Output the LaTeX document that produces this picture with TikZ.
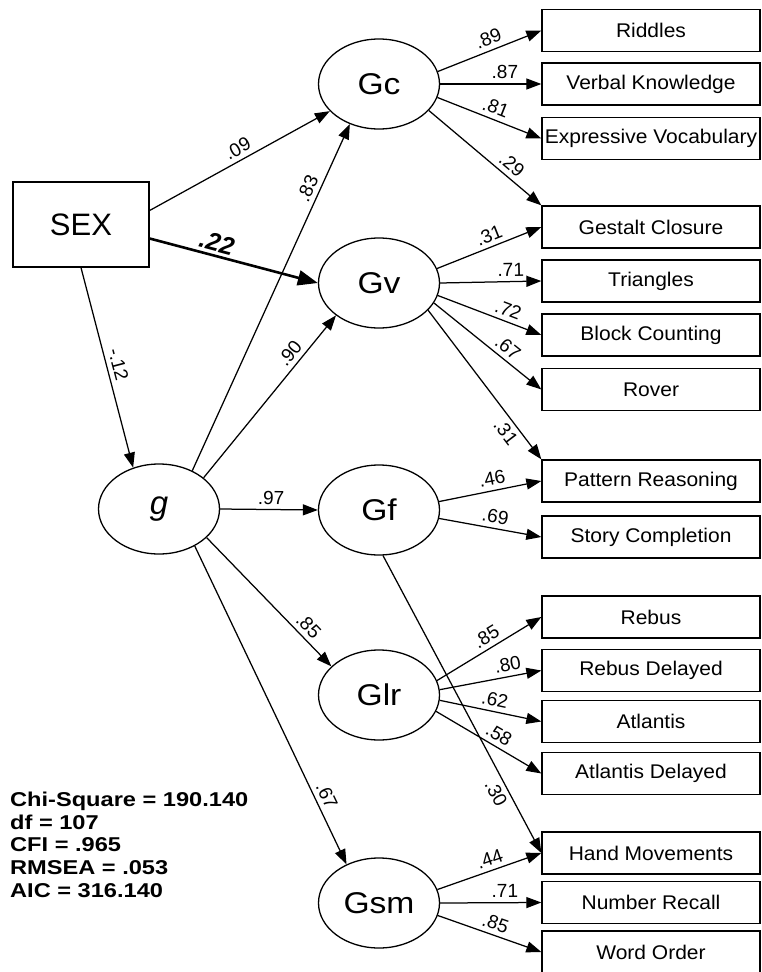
\documentclass[tikz,border=0pt]{standalone}
\usepackage{fontspec}
\setmainfont{Liberation Sans}
\newfontfamily\boxfont[FakeStretch=1.06]{Liberation Sans}
\newfontfamily\latfont[FakeStretch=1.12]{Liberation Sans}
\newfontfamily\statfont[FakeStretch=1.18]{Liberation Sans}
\usetikzlibrary{arrows.meta,shapes.geometric}

\tikzset{
  latent/.style={ellipse, draw, line width=1.3pt, minimum width=121pt,
    minimum height=90pt, inner sep=0pt, font=\latfont\fontsize{30}{30}\selectfont},
  indic/.style={rectangle, draw, line width=1.3pt, minimum width=218pt,
    minimum height=42pt, inner sep=0pt, font=\boxfont\fontsize{19.8}{20}\selectfont},
  arr/.style={line width=1.25pt, -{Triangle[length=15pt,width=11pt]}},
  lab/.style={font=\fontsize{19}{19}\selectfont, inner sep=4.5pt, sloped},
}

\begin{document}
\begin{tikzpicture}[x=1pt,y=-1pt]
\useasboundingbox (0,0) rectangle (761,972);

% observed grouping variable
\node[draw, line width=1.3pt, minimum width=136pt, minimum height=85pt,
  inner sep=0pt, font=\fontsize{31}{31}\selectfont] (SEX) at (81,224.5) {SEX};

% latent factors
\node[latent, font=\itshape\fontsize{33}{33}\selectfont] (g) at (159,509) {g};
\node[latent] (Gc)  at (379,84)  {Gc};
\node[latent] (Gv)  at (379,283) {Gv};
\node[latent] (Gf)  at (379,510) {Gf};
\node[latent] (Glr) at (379,695) {Glr};
\node[latent] (Gsm) at (379,903) {Gsm};

% subtests
\node[indic] (Rid) at (651,30.5)  {Riddles};
\node[indic] (VK)  at (651,84)    {Verbal Knowledge};
\node[indic] (EV)  at (651,138.5) {Expressive Vocabulary};
\node[indic] (GS)  at (651,227)   {Gestalt Closure};
\node[indic] (TR)  at (651,281)   {Triangles};
\node[indic] (BC)  at (651,335)   {Block Counting};
\node[indic] (RV)  at (651,389.5) {Rover};
\node[indic] (PR)  at (651,481)   {Pattern Reasoning};
\node[indic] (SC)  at (651,537)   {Story Completion};
\node[indic] (RB)  at (651,617)   {Rebus};
\node[indic] (RBD) at (651,670.5) {Rebus Delayed};
\node[indic] (AT)  at (651,721.5) {Atlantis};
\node[indic] (ATD) at (651,773.5) {Atlantis Delayed};
\node[indic] (HM)  at (651,853)   {Hand Movements};
\node[indic] (NR)  at (651,902.5) {Number Recall};
\node[indic] (WO)  at (651,952)   {Word Order};

% fit statistics
\node[anchor=north west, align=left, inner sep=0pt,
  font=\statfont\bfseries\fontsize{20}{22.8}\selectfont] (fit) at (10,791.5)
  {Chi-Square = 190.140\\df = 107\\CFI = .965\\RMSEA = .053\\AIC = 316.140};

% paths from SEX
\draw[arr] ([yshift=14pt]SEX.east) -- node[lab, above, pos=.52] {.09} (Gc);
\draw[line width=2.6pt, -{Triangle[length=20pt,width=15pt]}] ([yshift=-14pt]SEX.east)
  -- node[lab, above, pos=.38, inner sep=3pt,
     font=\bfseries\itshape\fontsize{25}{25}\selectfont] {.22} (Gv.west);
\draw[arr] (SEX.south) -- node[lab, above, pos=.5] {-.12} (g.122);

% paths from g
\draw[arr] (g.49)  -- node[lab, above, pos=.8]  {.83} (Gc.234);
\draw[arr] (g.35)  -- node[lab, above, pos=.72] {.90} (Gv.217);
\draw[arr] (g.east) -- node[lab, above, pos=.52] {.97} (Gf.west);
\draw[arr] (g.329) -- node[lab, above, pos=.75] {.85} (Glr.149);
\draw[arr] (g.314) -- node[lab, above, pos=.8]  {.67} (Gsm.130);

% loadings of Gc
\draw[arr] (Gc.12)   -- node[lab, above, pos=.53] {.89} (Rid.west);
\draw[arr] (Gc.east) -- node[lab, above, pos=.64] {.87} (VK.west);
\draw[arr] (Gc.347)  -- node[lab, above, pos=.52] {.81} (EV.west);
\draw[arr] (Gc.332)  -- node[lab, above, pos=.67] {.29} (GS.north west);

% loadings of Gv
\draw[arr] (Gv.14)   -- node[lab, above, pos=.54] {.31} (GS.west);
\draw[arr] (Gv.east) -- node[lab, above, pos=.7]  {.71} (TR.west);
\draw[arr] (Gv.348)  -- node[lab, above, pos=.64] {.72} (BC.west);
\draw[arr] (Gv.340)  -- node[lab, above, pos=.62] {.67} (RV.west);
\draw[arr] (Gv.331)  -- node[lab, below, pos=.77] {.31} (PR.north west);

% loadings of Gf
\draw[arr] (Gf.8)   -- node[lab, above, pos=.54] {.46} (PR.west);
\draw[arr] (Gf.352) -- node[lab, above, pos=.53] {.69} (SC.west);
\draw[arr] (Gf.275) -- node[lab, below, pos=.78] {.30} (HM.west);

% loadings of Glr
\draw[arr] (Glr.14)  -- node[lab, above, pos=.53] {.85} (RB.west);
\draw[arr] (Glr.5)   -- node[lab, above, pos=.69] {.80} (RBD.west);
\draw[arr] (Glr.355) -- node[lab, above, pos=.52] {.62} (AT.west);
\draw[arr] (Glr.344) -- node[lab, above, pos=.54] {.58} (ATD.west);

% loadings of Gsm
\draw[arr] (Gsm.13)   -- node[lab, above, pos=.54] {.44} (HM.west);
\draw[arr] (Gsm.east) -- node[lab, above, pos=.64] {.71} (NR.west);
\draw[arr] (Gsm.348)  -- node[lab, above, pos=.52] {.85} (WO.west);
\end{tikzpicture}
\end{document}
